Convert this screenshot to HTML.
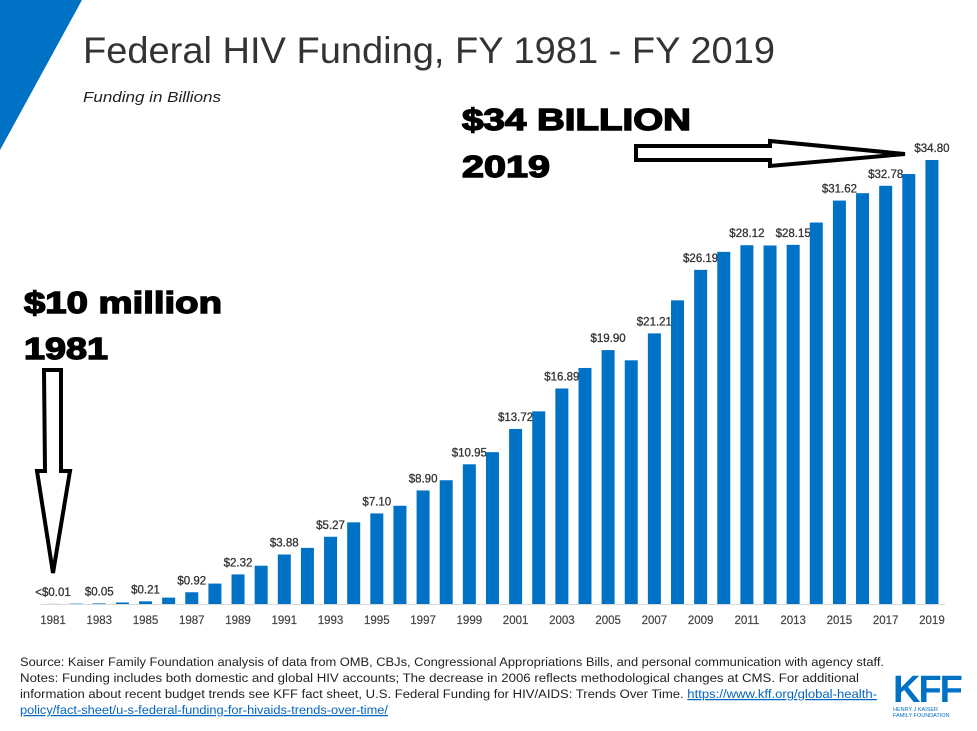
<!DOCTYPE html>
<html><head><meta charset="utf-8"><style>
body{margin:0;background:#fff;width:977px;height:731px;overflow:hidden;font-family:"Liberation Sans",sans-serif}
svg{display:block}
</style></head><body>
<svg id="c" width="977" height="731" xmlns="http://www.w3.org/2000/svg">
<polygon points="0,0 82,0 0,150" fill="#0072c6"/>
<text x="83" y="63" font-size="37" fill="#333" textLength="692" lengthAdjust="spacingAndGlyphs">Federal HIV Funding, FY 1981 - FY 2019</text>
<text x="83" y="102" font-size="15" font-style="italic" fill="#222" textLength="138" lengthAdjust="spacingAndGlyphs">Funding in Billions</text>
<g id="bars"></g>
<line x1="40" y1="604.5" x2="945" y2="604.5" stroke="#d9d9d9"/>
<g id="ticks"></g>
<text x="462" y="130" font-size="31" font-weight="bold" fill="#000" stroke="#000" stroke-width="1.4" textLength="229" lengthAdjust="spacingAndGlyphs">$34 BILLION</text>
<text x="462" y="177" font-size="31" font-weight="bold" fill="#000" stroke="#000" stroke-width="1.4" textLength="88" lengthAdjust="spacingAndGlyphs">2019</text>
<text x="24" y="313" font-size="31" font-weight="bold" fill="#000" stroke="#000" stroke-width="1.4" textLength="198" lengthAdjust="spacingAndGlyphs">$10 million</text>
<text x="24" y="359" font-size="31" font-weight="bold" fill="#000" stroke="#000" stroke-width="1.4" textLength="84" lengthAdjust="spacingAndGlyphs">1981</text>
<polygon points="636,146 770,146 770,141 905,154 770,166 770,160 636,160" fill="#fff" stroke="#000" stroke-width="4"/>
<polygon points="44,370 61,370 61,471 70,471 53,573 37,471 45,471" fill="#fff" stroke="#000" stroke-width="4"/>
<g font-size="12.2" fill="#222">
<text x="20" y="666" textLength="864" lengthAdjust="spacingAndGlyphs">Source: Kaiser Family Foundation analysis of data from OMB, CBJs, Congressional Appropriations Bills, and personal communication with agency staff.</text>
<text x="20" y="682" textLength="839" lengthAdjust="spacingAndGlyphs">Notes: Funding includes both domestic and global HIV accounts; The decrease in 2006 reflects methodological changes at CMS. For additional</text>
<text x="20" y="698" textLength="857" lengthAdjust="spacingAndGlyphs">information about recent budget trends see KFF fact sheet, U.S. Federal Funding for HIV/AIDS: Trends Over Time. <tspan fill="#0563c1" text-decoration="underline">https://www.kff.org/global-health-</tspan></text>
<text x="20" y="714" fill="#0563c1" text-decoration="underline" textLength="368" lengthAdjust="spacingAndGlyphs">policy/fact-sheet/u-s-federal-funding-for-hivaids-trends-over-time/</text>
</g>
<g>
<text x="893" y="702" font-size="38" font-weight="bold" fill="#0072c6" letter-spacing="-2">KFF</text>
<text x="893" y="711" font-size="5.5" fill="#0072c6">HENRY J KAISER</text>
<text x="893" y="717" font-size="5.5" fill="#0072c6">FAMILY FOUNDATION</text>
</g>
</svg>
<script>
const years=[1981,1982,1983,1984,1985,1986,1987,1988,1989,1990,1991,1992,1993,1994,1995,1996,1997,1998,1999,2000,2001,2002,2003,2004,2005,2006,2007,2008,2009,2010,2011,2012,2013,2014,2015,2016,2017,2018,2019];
const values=[0.01,0.03,0.05,0.12,0.21,0.5,0.92,1.6,2.32,3.0,3.88,4.4,5.27,6.4,7.10,7.7,8.90,9.7,10.95,11.9,13.72,15.1,16.89,18.5,19.90,19.1,21.21,23.8,26.19,27.6,28.12,28.1,28.15,29.9,31.62,32.2,32.78,33.7,34.80];
const labels=["<$0.01",null,"$0.05",null,"$0.21",null,"$0.92",null,"$2.32",null,"$3.88",null,"$5.27",null,"$7.10",null,"$8.90",null,"$10.95",null,"$13.72",null,"$16.89",null,"$19.90",null,"$21.21",null,"$26.19",null,"$28.12",null,"$28.15",null,"$31.62",null,"$32.78",null,"$34.80"];
const NS="http://www.w3.org/2000/svg";
const x0=53,step=23.13,base=604,k=444/34.8,bw=13;
const xs=i=>x0+i*step, ys=v=>base-v*k;
const bars=document.getElementById('bars'),ticks=document.getElementById('ticks');
values.forEach((v,i)=>{
  const r=document.createElementNS(NS,'rect');
  r.setAttribute('x',xs(i)-bw/2);r.setAttribute('y',ys(v));r.setAttribute('width',bw);r.setAttribute('height',base-ys(v));r.setAttribute('fill','#0072c6');
  
  
  bars.appendChild(r);
  if(labels[i]){
    const t=document.createElementNS(NS,'text');
    t.setAttribute('x',xs(i));t.setAttribute('y',ys(v)-8);t.setAttribute('text-anchor','middle');t.setAttribute('font-size','11.5');t.setAttribute('fill','#333');t.setAttribute('stroke','#333');t.setAttribute('stroke-width','0.3');
    t.textContent=labels[i];
    
    
    bars.appendChild(t);
  }
  if(i%2===0){
    const t=document.createElementNS(NS,'text');
    t.setAttribute('x',xs(i));t.setAttribute('y',624);t.setAttribute('text-anchor','middle');t.setAttribute('font-size','11.5');t.setAttribute('fill','#444');t.setAttribute('stroke','#444');t.setAttribute('stroke-width','0.2');
    t.textContent=years[i];
    
    
    ticks.appendChild(t);
  }
});
</script>
</body></html>
